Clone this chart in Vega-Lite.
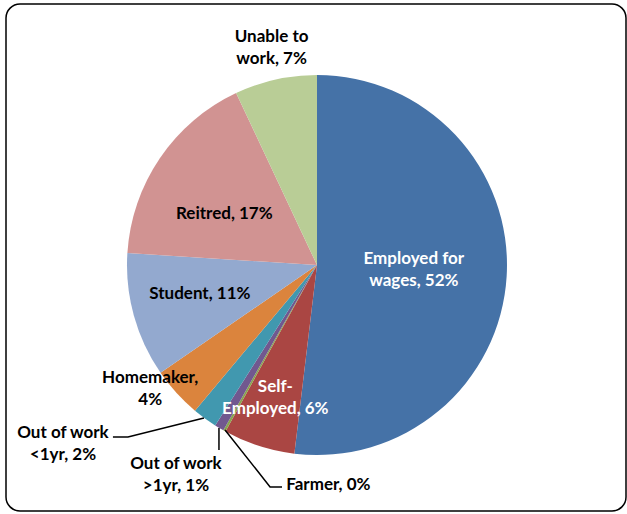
{
  "$schema": "https://vega.github.io/schema/vega-lite/v6.json",
  "width": 620,
  "height": 507,
  "autosize": {"type": "none"},
  "padding": {"left": 6, "top": 4, "right": 1, "bottom": 3},
  "background": "white",
  "config": {
    "view": {"stroke": "black", "strokeWidth": 1.5, "cornerRadius": 14},
    "text": {"font": "Lato", "fontWeight": "bold", "fontSize": 17, "lineHeight": 22, "baseline": "middle", "lineBreak": "\n"}
  },
  "datasets": {
    "slices": [
      {"category": "Employed for wages", "share": 51.9, "rank": 1, "label": "Employed for\nwages, 52%"},
      {"category": "Self-Employed", "share": 6.1, "rank": 2, "label": "Self-\nEmployed, 6%"},
      {"category": "Farmer", "share": 0.2, "rank": 3, "label": "Farmer, 0%"},
      {"category": "Out of work >1yr", "share": 0.8, "rank": 4, "label": "Out of work\n>1yr, 1%"},
      {"category": "Out of work <1yr", "share": 2.1, "rank": 5, "label": "Out of work\n<1yr, 2%"},
      {"category": "Homemaker", "share": 4.3, "rank": 6, "label": "Homemaker,\n4%"},
      {"category": "Student", "share": 10.6, "rank": 7, "label": "Student, 11%"},
      {"category": "Reitred", "share": 17.0, "rank": 8, "label": "Reitred, 17%"},
      {"category": "Unable to work", "share": 7.0, "rank": 9, "label": "Unable to\nwork, 7%"}
    ],
    "leaders": [
      {"leader": "Out of work <1yr", "seq": 1, "px": -0.595, "py": -0.805},
      {"leader": "Out of work <1yr", "seq": 2, "px": -0.995, "py": -0.905},
      {"leader": "Out of work <1yr", "seq": 3, "px": -1.074, "py": -0.905},
      {"leader": "Out of work >1yr", "seq": 1, "px": -0.516, "py": -0.858},
      {"leader": "Out of work >1yr", "seq": 2, "px": -0.516, "py": -0.974},
      {"leader": "Farmer", "seq": 1, "px": -0.484, "py": -0.868},
      {"leader": "Farmer", "seq": 2, "px": -0.247, "py": -1.168},
      {"leader": "Farmer", "seq": 3, "px": -0.184, "py": -1.168}
    ]
  },
  "data": {"name": "slices"},
  "layer": [
    {
      "mark": {"type": "arc", "x": 311, "y": 261, "outerRadius": 190},
      "encoding": {
        "theta": {"field": "share", "type": "quantitative", "stack": true},
        "order": {"field": "rank", "type": "quantitative"},
        "color": {
          "field": "category",
          "type": "nominal",
          "scale": {
            "domain": ["Employed for wages", "Self-Employed", "Farmer", "Out of work >1yr", "Out of work <1yr", "Homemaker", "Student", "Reitred", "Unable to work"],
            "range": ["#4572A7", "#AA4643", "#89A54E", "#71588F", "#4198AF", "#DB843D", "#93A9CF", "#D19392", "#B9CD96"]
          },
          "legend": null
        }
      }
    },
    {
      "mark": {"type": "text", "x": 311, "y": 261, "radius": 97, "dx": 0, "dy": -12, "fill": "white"},
      "encoding": {
        "theta": {"field": "share", "type": "quantitative", "stack": true},
        "order": {"field": "rank", "type": "quantitative"},
        "text": {"condition": {"test": "datum.rank == 1", "field": "label"}, "value": ""}
      }
    },
    {
      "mark": {"type": "text", "x": 311, "y": 261, "radius": 139.5, "dx": 1, "dy": -11, "fill": "white"},
      "encoding": {
        "theta": {"field": "share", "type": "quantitative", "stack": true},
        "order": {"field": "rank", "type": "quantitative"},
        "text": {"condition": {"test": "datum.rank == 2", "field": "label"}, "value": ""}
      }
    },
    {
      "mark": {"type": "text", "x": 311, "y": 261, "radius": 252, "dx": 92, "dy": 0, "align": "left", "fill": "black"},
      "encoding": {
        "theta": {"field": "share", "type": "quantitative", "stack": true},
        "order": {"field": "rank", "type": "quantitative"},
        "text": {"condition": {"test": "datum.rank == 3", "field": "label"}, "value": ""}
      }
    },
    {
      "mark": {"type": "text", "x": 311, "y": 261, "radius": 245, "dx": -15, "dy": -11, "fill": "black"},
      "encoding": {
        "theta": {"field": "share", "type": "quantitative", "stack": true},
        "order": {"field": "rank", "type": "quantitative"},
        "text": {"condition": {"test": "datum.rank == 4", "field": "label"}, "value": ""}
      }
    },
    {
      "mark": {"type": "text", "x": 311, "y": 261, "radius": 222, "dx": -123, "dy": -11, "fill": "black"},
      "encoding": {
        "theta": {"field": "share", "type": "quantitative", "stack": true},
        "order": {"field": "rank", "type": "quantitative"},
        "text": {"condition": {"test": "datum.rank == 5", "field": "label"}, "value": ""}
      }
    },
    {
      "mark": {"type": "text", "x": 311, "y": 261, "radius": 208, "dx": -13, "dy": -27, "fill": "black"},
      "encoding": {
        "theta": {"field": "share", "type": "quantitative", "stack": true},
        "order": {"field": "rank", "type": "quantitative"},
        "text": {"condition": {"test": "datum.rank == 6", "field": "label"}, "value": ""}
      }
    },
    {
      "mark": {"type": "text", "x": 311, "y": 261, "radius": 120.5, "dx": -1, "dy": -3, "fill": "black"},
      "encoding": {
        "theta": {"field": "share", "type": "quantitative", "stack": true},
        "order": {"field": "rank", "type": "quantitative"},
        "text": {"condition": {"test": "datum.rank == 7", "field": "label"}, "value": ""}
      }
    },
    {
      "mark": {"type": "text", "x": 311, "y": 261, "radius": 106, "dx": -5, "dy": 9, "fill": "black"},
      "encoding": {
        "theta": {"field": "share", "type": "quantitative", "stack": true},
        "order": {"field": "rank", "type": "quantitative"},
        "text": {"condition": {"test": "datum.rank == 8", "field": "label"}, "value": ""}
      }
    },
    {
      "mark": {"type": "text", "x": 311, "y": 261, "radius": 222, "dx": 3, "dy": -11, "fill": "black"},
      "encoding": {
        "theta": {"field": "share", "type": "quantitative", "stack": true},
        "order": {"field": "rank", "type": "quantitative"},
        "text": {"condition": {"test": "datum.rank == 9", "field": "label"}, "value": ""}
      }
    },
    {
      "data": {"name": "leaders"},
      "mark": {"type": "line", "color": "black", "strokeWidth": 1.5},
      "encoding": {
        "x": {"field": "px", "type": "quantitative", "axis": null, "scale": {"domain": [-1.63684, 1.62632], "nice": false, "zero": false}},
        "y": {"field": "py", "type": "quantitative", "axis": null, "scale": {"domain": [-1.29474, 1.37368], "nice": false, "zero": false}},
        "detail": {"field": "leader", "type": "nominal"},
        "order": {"field": "seq", "type": "quantitative"}
      }
    }
  ]
}
